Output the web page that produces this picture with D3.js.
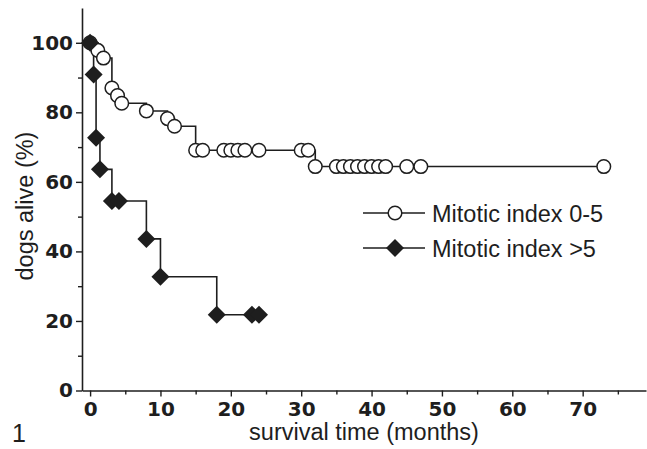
<!DOCTYPE html>
<html>
<head>
<meta charset="utf-8">
<script src="https://cdn.jsdelivr.net/npm/d3@7"></script>
<style>
  body { margin: 0; background: white; }
  svg { display: block; }
</style>
</head>
<body>
<script>
// survival data (months, % alive)
var lowTimes = [0, 1.1, 1.9, 3.1, 3.9, 4.5, 8, 11, 12, 15, 16, 19, 20, 21, 22, 24, 30, 31,
                32, 35, 36, 37, 38, 39, 40, 41, 42, 45, 47, 73];
var lowAlive = [100, 97.8, 95.6, 87.0, 84.8, 82.6, 80.4, 78.2, 76.0, 69.1, 69.1, 69.1, 69.1, 69.1, 69.1, 69.1, 69.1, 69.1,
                64.4, 64.4, 64.4, 64.4, 64.4, 64.4, 64.4, 64.4, 64.4, 64.4, 64.4, 64.4];

var highTimes = [0, 0.5, 0.85, 1.4, 3.1, 4.1, 8, 10, 18, 23, 24];
var highAlive = [100, 90.9, 72.7, 63.6, 54.5, 54.5, 43.6, 32.7, 21.8, 21.8, 21.8];

var seriesNames = ["Mitotic index 0-5", "Mitotic index >5"];
var xTicks = [0, 10, 20, 30, 40, 50, 60, 70];
var yTicks = [0, 20, 40, 60, 80, 100];

var width = 647, height = 449;
var ink = "#1e1e1e";

var svg = d3.select("body").append("svg")
    .attr("width", width)
    .attr("height", height)
    .style("background", "white");

var x = d3.scaleLinear().domain([-1.15, 79]).range([82, 646]);
var y = d3.scaleLinear().domain([0, 110]).range([390.5, 8]);

// minor ticks first, then major axes on top
var xMinor = d3.axisBottom(x).tickValues(d3.range(5, 80, 10)).tickSize(4).tickFormat("");
var yMinor = d3.axisLeft(y).tickValues(d3.range(10, 100, 20)).tickSize(4).tickFormat("");

svg.append("g")
    .attr("transform", "translate(0," + y(0) + ")")
    .call(xMinor)
    .call(g => g.select(".domain").remove())
    .selectAll("line").attr("stroke", ink).attr("stroke-width", 1.4);

svg.append("g")
    .attr("transform", "translate(" + x(-1.15) + ",0)")
    .call(yMinor)
    .call(g => g.select(".domain").remove())
    .selectAll("line").attr("stroke", ink).attr("stroke-width", 1.4);

var xAxis = d3.axisBottom(x).tickValues(xTicks).tickSize(6).tickSizeOuter(0).tickPadding(5);
var yAxis = d3.axisLeft(y).tickValues(yTicks).tickSize(6).tickSizeOuter(0).tickPadding(3);

var gx = svg.append("g")
    .attr("transform", "translate(0," + y(0) + ")")
    .call(xAxis);

var gy = svg.append("g")
    .attr("transform", "translate(" + x(-1.15) + ",0)")
    .call(yAxis);

[gx, gy].forEach(function(g) {
    g.select(".domain").attr("stroke", ink).attr("stroke-width", 1.6);
    g.selectAll(".tick line").attr("stroke", ink).attr("stroke-width", 1.4);
    g.selectAll(".tick text")
        .attr("fill", ink)
        .style("font-family", "'DejaVu Sans', sans-serif")
        .style("font-weight", "bold")
        .style("font-size", "20px");
});

// survival curves
var line = d3.line()
    .x(d => x(d.t))
    .y(d => y(d.v))
    .curve(d3.curveStepAfter);

var lowData = lowTimes.map((t, i) => ({ t: t, v: lowAlive[i] }));
var highData = highTimes.map((t, i) => ({ t: t, v: highAlive[i] }));

svg.append("path")
    .datum(lowData)
    .attr("d", line)
    .attr("fill", "none")
    .attr("stroke", ink)
    .attr("stroke-width", 1.6);

svg.append("path")
    .datum(highData)
    .attr("d", line)
    .attr("fill", "none")
    .attr("stroke", ink)
    .attr("stroke-width", 1.6);

var diamond = "M0,-9L9,0L0,9L-9,0Z";

svg.append("g").selectAll("circle")
    .data(lowData)
    .enter().append("circle")
    .attr("cx", d => x(d.t))
    .attr("cy", d => y(d.v))
    .attr("r", 6.8)
    .attr("fill", "white")
    .attr("stroke", ink)
    .attr("stroke-width", 1.5);

svg.append("g").selectAll("path")
    .data(highData)
    .enter().append("path")
    .attr("d", diamond)
    .attr("transform", d => "translate(" + x(d.t) + "," + y(d.v) + ")")
    .attr("fill", ink);

// legend
var legend = svg.append("g").attr("transform", "translate(363,0)");
var legendY = [213, 248];

seriesNames.forEach(function(name, i) {
    legend.append("line")
        .attr("x1", 0).attr("x2", 62)
        .attr("y1", legendY[i]).attr("y2", legendY[i])
        .attr("stroke", ink)
        .attr("stroke-width", 1.6);
    if (i == 0) {
        legend.append("circle")
            .attr("cx", 32).attr("cy", legendY[i])
            .attr("r", 6.8)
            .attr("fill", "white")
            .attr("stroke", ink)
            .attr("stroke-width", 1.5);
    } else {
        legend.append("path")
            .attr("d", diamond)
            .attr("transform", "translate(32," + legendY[i] + ")")
            .attr("fill", ink);
    }
    legend.append("text")
        .attr("x", 69)
        .attr("y", legendY[i] + 9)
        .attr("fill", ink)
        .style("font-family", "'Liberation Sans', Arial, sans-serif")
        .style("font-size", "23.5px")
        .text(name);
});

// axis titles
svg.append("text")
    .attr("x", 364)
    .attr("y", 440)
    .attr("text-anchor", "middle")
    .attr("fill", ink)
    .style("font-family", "'Liberation Sans', Arial, sans-serif")
    .style("font-size", "23.5px")
    .text("survival time (months)");

svg.append("text")
    .attr("transform", "translate(33,206) rotate(-90)")
    .attr("text-anchor", "middle")
    .attr("fill", ink)
    .style("font-family", "'Liberation Sans', Arial, sans-serif")
    .style("font-size", "23.5px")
    .text("dogs alive (%)");

svg.append("text")
    .attr("x", 12)
    .attr("y", 442)
    .attr("fill", ink)
    .style("font-family", "'Liberation Sans', Arial, sans-serif")
    .style("font-size", "25px")
    .text("1");
</script>
</body>
</html>
